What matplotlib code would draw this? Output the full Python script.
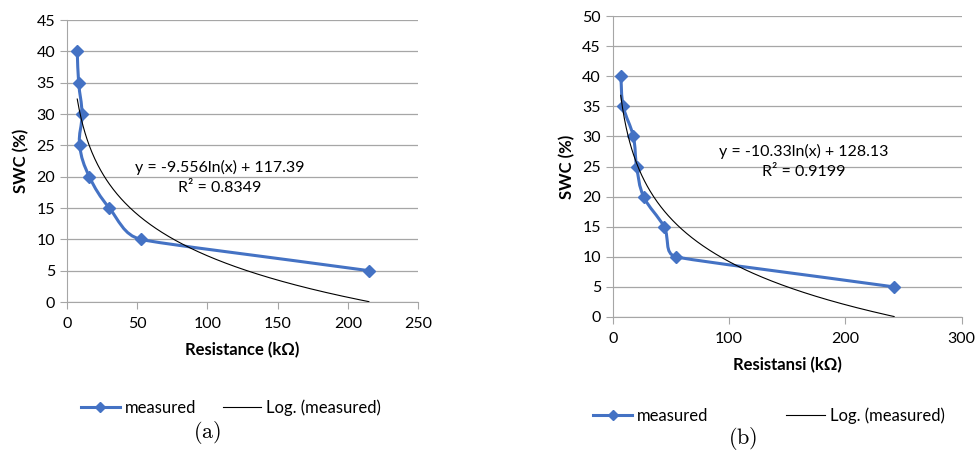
import numpy as np
import matplotlib.pyplot as plt
from matplotlib.path import Path
from matplotlib.patches import PathPatch
from matplotlib.lines import Line2D

plt.rcParams['font.family'] = ['Lato', 'DejaVu Sans']
plt.rcParams['mathtext.fontset'] = 'cm'

# (a) readings
swc_a = [40, 35, 30, 25, 20, 15, 10, 5]
res_a = [7.3, 8.3, 10.7, 9.0, 15.9, 30.1, 52.5, 215.0]
fit_a = (-9.556, 117.39)
eq_a = "y = -9.556ln(x) + 117.39"
r2_a = "R² = 0.8349"

# (b) readings
swc_b = [40, 35, 30, 25, 20, 15, 10, 5]
res_b = [6.9, 9.1, 17.7, 20.6, 26.6, 44.1, 54.4, 241.9]
fit_b = (-10.33, 128.13)
eq_b = "y = -10.33ln(x) + 128.13"
r2_b = "R² = 0.9199"

BLUE = '#4472C4'
GRID = '#A6A6A6'


def smooth_path(x, y, sx, sy, k=0.4):
    # excel-like smoothed line: bezier segments, handles limited by the shorter neighbour segment (px)
    p = np.column_stack([x, y]).astype(float) * [sx, sy]
    n = len(p)
    seg = [np.hypot(*(p[i + 1] - p[i])) for i in range(n - 1)]
    tang = []
    for i in range(n):
        a = p[max(i - 1, 0)]
        b = p[min(i + 1, n - 1)]
        v = b - a
        tang.append(v / np.hypot(*v))
    verts = [p[0]]
    codes = [Path.MOVETO]
    for i in range(n - 1):
        d0 = min(seg[i], seg[i - 1]) if i > 0 else seg[i]
        d1 = min(seg[i], seg[i + 1]) if i + 1 < n - 1 else seg[i]
        verts += [p[i] + tang[i] * d0 * k, p[i + 1] - tang[i + 1] * d1 * k, p[i + 1]]
        codes += [Path.CURVE4] * 3
    verts = np.array(verts) / [sx, sy]
    return Path(verts, codes)


def draw_panel(ax, res, swc, fit, eq, r2, xmax, xstep, ymax, xlabel, eq_pos, size_px):
    sx = size_px[0] / xmax
    sy = size_px[1] / ymax
    ax.add_patch(PathPatch(smooth_path(res, swc, sx, sy), fill=False, edgecolor=BLUE,
                           lw=2.2, capstyle='round', joinstyle='round', zorder=3))
    ax.plot(res, swc, linestyle='none', marker='D', ms=6.5, color=BLUE, zorder=4)
    xs = np.linspace(min(res), max(res), 300)
    ax.plot(xs, fit[0] * np.log(xs * 1000) + fit[1], color='black', lw=0.8, zorder=5)

    ax.set_xlim(0, xmax)
    ax.set_ylim(0, ymax)
    ax.set_xticks(np.arange(0, xmax + 1, xstep))
    ax.set_yticks(np.arange(0, ymax + 1, 5))
    ax.grid(axis='y', color=GRID, lw=0.9)
    ax.set_axisbelow(True)
    for s in ['top', 'right']:
        ax.spines[s].set_visible(False)
    for s in ['left', 'bottom']:
        ax.spines[s].set_color(GRID)
    ax.tick_params(colors=GRID, labelcolor='black', labelsize=11.5, length=5)
    ax.tick_params(axis='x', pad=6)
    ax.set_ylabel('SWC (%)', fontweight='bold', fontsize=12, labelpad=5)
    ax.set_xlabel(xlabel, fontweight='bold', fontsize=12, labelpad=8)
    ax.text(eq_pos[0], eq_pos[1], eq + "\n" + r2, ha='center', va='center',
            fontsize=11.5, linespacing=1.55)


fig = plt.figure(figsize=(9.77, 4.51), dpi=100)
ax1 = fig.add_axes([67 / 977, 1 - 302 / 451, 351 / 977, 282 / 451])
ax2 = fig.add_axes([612.7 / 977, 1 - 317 / 451, 349 / 977, 301 / 451])

draw_panel(ax1, res_a, swc_a, fit_a, eq_a, r2_a, 250, 50, 45,
           'Resistance (kΩ)', (109, 19.8), (351, 282))
draw_panel(ax2, res_b, swc_b, fit_b, eq_b, r2_b, 300, 100, 50,
           'Resistansi (kΩ)', (164, 25.8), (349, 301))

handles = [Line2D([], [], color=BLUE, lw=2.2, marker='D', ms=5.5),
           Line2D([], [], color='black', lw=0.8)]
labels = ['measured', 'Log. (measured)']

fig.legend(handles, labels, loc='center', ncol=2, frameon=False, fontsize=12,
           bbox_to_anchor=(231 / 977, 1 - 408 / 451), handlelength=2.3,
           handletextpad=0.3, columnspacing=1.6)
fig.legend(handles, labels, loc='center', ncol=2, frameon=False, fontsize=12,
           bbox_to_anchor=(769 / 977, 1 - 416 / 451), handlelength=2.3,
           handletextpad=0.3, columnspacing=4.7)

fig.text(207 / 977, 1 - 433 / 451, r'$\mathrm{(a)}$', ha='center', va='center', fontsize=16)
fig.text(743 / 977, 1 - 438 / 451, r'$\mathrm{(b)}$', ha='center', va='center', fontsize=16)

fig.savefig('out.png', dpi=100)
